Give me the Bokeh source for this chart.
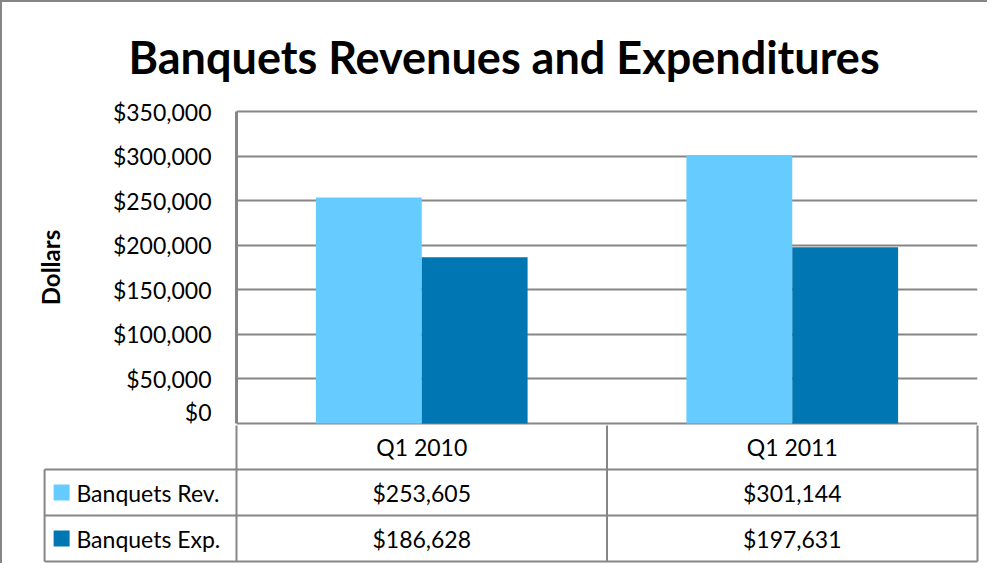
from bokeh.plotting import figure
from bokeh.models import FactorRange, Range1d, NumeralTickFormatter, FixedTicker, ColumnDataSource
from bokeh.transform import dodge
from bokeh.layouts import column
from bokeh.embed import file_html
from bokeh.resources import INLINE
from bokeh.core.properties import value

# ---------------- data ----------------
categories = ["Q1 2010", "Q1 2011"]
series_names = ["Banquets Rev.", "Banquets Exp."]
revenues = [253605, 301144]
expenditures = [186628, 197631]
y_ticks = [0, 50000, 100000, 150000, 200000, 250000, 300000, 350000]
title_text = "Banquets Revenues and Expenditures"
y_label = "Dollars"

# ---------------- style ----------------
LIGHT = "#66CCFF"
DARK = "#0077B3"
GRID = "#868686"
FONT = "Lato"
TICK_SIZE = "23px"

y_max = y_ticks[-1]
frame_h_core = 312  # px between 0 and top tick
pad = 2 * y_max / frame_h_core
bar_w = 1 / 3.5  # Excel gap width 150%

top = figure(
    width=985, height=423,
    x_range=FactorRange(*categories),
    y_range=Range1d(-pad, y_max + pad),
    x_axis_location=None,
    output_backend="svg", toolbar_location=None,
    min_border_top=107, min_border_left=234, min_border_right=10, min_border_bottom=0,
    frame_align=False,
)
top.title.text = title_text
top.title.text_font = FONT
top.title.text_font_size = "45px"
top.title.text_font_style = "bold"
top.title.text_color = "black"
top.title.align = "left"
top.title.offset = -108
top.title.standoff = 51

src = ColumnDataSource(dict(cat=categories, rev=revenues, exp=expenditures))
top.vbar(x=dodge("cat", -bar_w / 2, range=top.x_range), top="rev", width=bar_w,
         source=src, fill_color=LIGHT, line_color=None)
top.vbar(x=dodge("cat", bar_w / 2, range=top.x_range), top="exp", width=bar_w,
         source=src, fill_color=DARK, line_color=None)

ax = top.yaxis[0]
ax.ticker = FixedTicker(ticks=y_ticks)
ax.formatter = NumeralTickFormatter(format="$0,0")
ax.bounds = (0, y_max)
ax.axis_line_color = GRID
ax.axis_line_width = 3
ax.major_tick_line_color = None
ax.minor_tick_line_color = None
ax.major_label_standoff = 19
ax.major_label_text_font = FONT
ax.major_label_text_font_size = TICK_SIZE
ax.major_label_text_color = "black"
ax.axis_label = y_label
ax.axis_label_text_font = FONT
ax.axis_label_text_font_size = "24px"
ax.axis_label_text_font_style = "bold"
ax.axis_label_text_color = "black"
ax.axis_label_standoff = 45

top.ygrid.grid_line_color = GRID
top.ygrid.grid_line_width = 2
top.xgrid.grid_line_color = None
top.outline_line_color = None

# ---------------- data table ----------------
n = len(categories)
n_rows = 1 + len(series_names)
legend_left = -0.518
tbl = figure(
    width=985, height=138,
    x_range=Range1d(-0.5236, n + 0.0054),
    y_range=Range1d(n_rows + 0.043, 0.0435),
    x_axis_location=None, y_axis_location=None,
    output_backend="svg", toolbar_location=None,
    min_border_top=0, min_border_left=40, min_border_right=8, min_border_bottom=0,
    frame_align=False,
)
tbl.grid.visible = False
tbl.outline_line_color = None

x0, y0, x1, y1 = [], [], [], []
for r in range(1, n_rows + 1):
    x0.append(legend_left); x1.append(n); y0.append(r); y1.append(r)
for c in range(0, n + 1):
    x0.append(c); x1.append(c); y0.append(0); y1.append(n_rows)
x0.append(legend_left); x1.append(legend_left); y0.append(1); y1.append(n_rows)
tbl.segment(x0=x0, y0=y0, x1=x1, y1=y1, line_color=GRID, line_width=2)

cx = [i + 0.5 for i in range(n)]
tbl.text(x=cx, y=[0.5] * n, text=categories, text_align="center", text_baseline="middle",
         text_font=value(FONT), text_font_size=TICK_SIZE, text_color="black")
for r, vals in enumerate([revenues, expenditures], start=1):
    tbl.text(x=cx, y=[r + 0.5] * n, text=[f"${v:,}" for v in vals],
             text_align="center", text_baseline="middle",
             text_font=value(FONT), text_font_size=TICK_SIZE, text_color="black")

ly = [r + 0.5 for r in range(1, n_rows)]
tbl.rect(x=[-0.472] * len(series_names), y=ly, width=16, height=16,
         width_units="screen", height_units="screen",
         fill_color=[LIGHT, DARK], line_color=None)
tbl.text(x=[-0.432] * len(series_names), y=ly, text=series_names,
         text_align="left", text_baseline="middle",
         text_font=value(FONT), text_font_size=TICK_SIZE, text_color="black")

layout = column(top, tbl, styles={"border-top": f"2px solid {GRID}", "border-left": f"2px solid {GRID}"})

open("out.html", "w").write(file_html(layout, INLINE))
